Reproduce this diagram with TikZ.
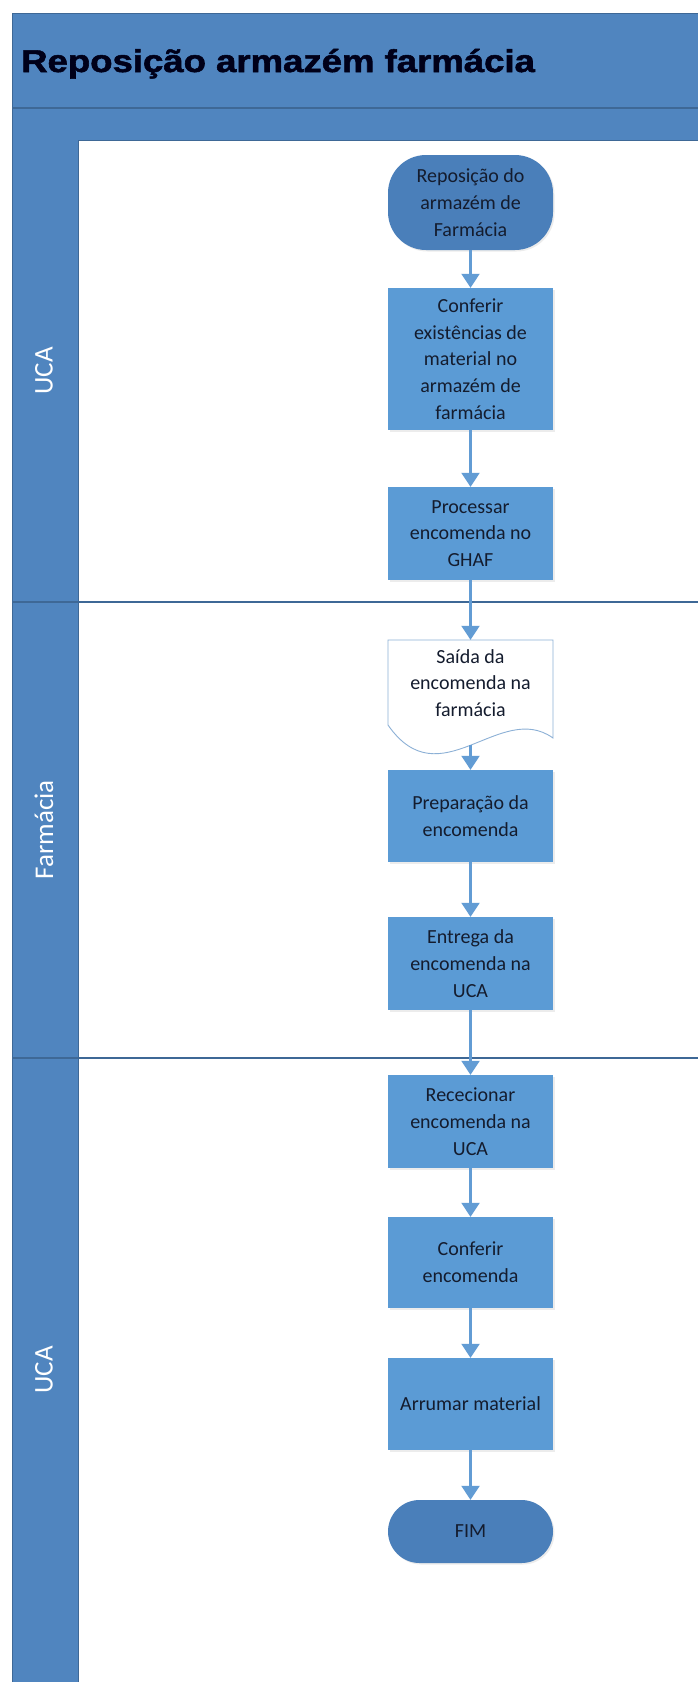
\documentclass[tikz,border=0pt]{standalone}
\usepackage{fontspec}
\setmainfont{Carlito}
\newfontfamily\titlefont[BoldFeatures={FakeBold=1.6}]{Liberation Sans}
\usetikzlibrary{arrows.meta,shadows}

\definecolor{bandblue}{RGB}{80,133,191}
\definecolor{bandline}{RGB}{62,104,150}
\definecolor{procblue}{RGB}{91,155,213}
\definecolor{termblue}{RGB}{74,127,186}
\definecolor{flowblue}{RGB}{98,156,212}
\definecolor{docline}{RGB}{140,176,214}
\definecolor{inktext}{RGB}{20,28,46}

\begin{document}
\begin{tikzpicture}[x=1pt,y=-1pt,
  softshadow/.style={drop shadow={shadow xshift=1.5pt, shadow yshift=-1.5pt, opacity=0.15, fill=black!50}},
  stepbox/.style={rectangle, fill=procblue, minimum width=165pt, inner sep=0pt,
    align=center, text=inktext, font=\fontsize{20}{26.7}\selectfont, softshadow},
  terminal/.style={stepbox, fill=termblue},
  flow/.style={draw=flowblue, line width=2.2pt, -{Triangle[width=18pt,length=14pt]}},
  lanelabel/.style={rotate=90, text=white, font=\fontsize{27}{30}\selectfont},
  separator/.style={draw=bandline, line width=1.5pt}]

\useasboundingbox (0,0) rectangle (698,1682);
\fill[white] (0,0) rectangle (698,1682);

% pool header, sub-header and lane column
\fill[bandblue] (12,13) rectangle (700,140);
\fill[bandblue] (12,140) rectangle (78,1684);
\draw[bandline, line width=0.8pt] (12,1684) -- (12,13) -- (700,13);
\draw[separator] (12,108) -- (700,108);
\draw[bandline, line width=0.8pt] (78,140) -- (700,140);
\draw[bandline, line width=0.6pt] (78,140) -- (78,1684);

% lane boundaries
\draw[separator] (12,602) -- (700,602);
\draw[separator] (12,1058) -- (700,1058);

% title
\node[anchor=base west, inner sep=0pt, text=black!90!blue,
  font=\titlefont\fontsize{31.5}{36}\selectfont\bfseries] (title) at (21,72)
  {\scalebox{1.16}[1]{Reposição armazém farmácia}};

% lane names
\node[lanelabel] (lane1) at (44,371) {UCA};
\node[lanelabel] (lane2) at (44,830) {Farmácia};
\node[lanelabel] (lane3) at (44,1370) {UCA};

% flow steps
\node[terminal, minimum height=95pt, rounded corners=38pt] (start) at (470.5,202.5)
  {Reposição do\\armazém de\\Farmácia};
\node[stepbox, minimum height=142pt] (b1) at (470.5,359)
  {Conferir\\existências de\\material no\\armazém de\\farmácia};
\node[stepbox, minimum height=93pt] (b2) at (470.5,533.5)
  {Processar\\encomenda no\\GHAF};

% document shape with wavy bottom
\node[rectangle, minimum width=165pt, minimum height=113pt, inner sep=0pt] (doc) at (470.5,696.5) {};
\draw[docline, fill=white, line width=0.9pt]
  (388,640) -- (553,640) -- (553,738) .. controls (500,700) and (440,800) .. (388,725) -- cycle;
\node[align=center, text=inktext, font=\fontsize{20}{26.7}\selectfont] (doctext) at (470.5,683)
  {Saída da\\encomenda na\\farmácia};
\coordinate (docout) at (470.5,745.4);

\node[stepbox, minimum height=92pt] (b3) at (470.5,816)
  {Preparação da\\encomenda};
\node[stepbox, minimum height=93pt] (b4) at (470.5,963.5)
  {Entrega da\\encomenda na\\UCA};
\node[stepbox, minimum height=93pt] (b5) at (470.5,1121.5)
  {Rececionar\\encomenda na\\UCA};
\node[stepbox, minimum height=91pt] (b6) at (470.5,1262.5)
  {Conferir\\encomenda};
\node[stepbox, minimum height=92pt] (b7) at (470.5,1404)
  {Arrumar material};
\node[terminal, minimum height=63pt, rounded corners=31.5pt] (fim) at (470.5,1531.5)
  {FIM};

% connectors
\draw[flow] (start) -- (b1);
\draw[flow] (b1) -- (b2);
\draw[flow] (b2) -- (doc);
\draw[flow] (docout) -- (b3);
\draw[flow] (b3) -- (b4);
\draw[flow] (b4) -- (b5);
\draw[flow] (b5) -- (b6);
\draw[flow] (b6) -- (b7);
\draw[flow] (b7) -- (fim);
\end{tikzpicture}
\end{document}
